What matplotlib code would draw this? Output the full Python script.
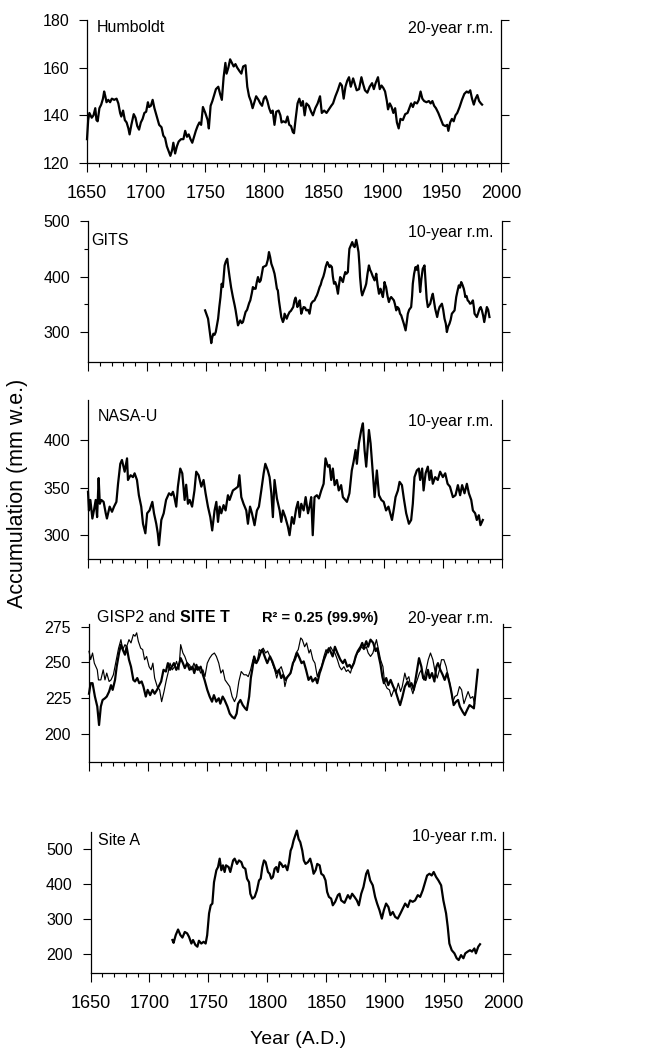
import matplotlib
matplotlib.use("Agg")
import matplotlib.pyplot as plt
from matplotlib import font_manager
from matplotlib.ticker import MultipleLocator, FixedLocator, NullFormatter

# ---------------------------------------------------------------- data
humboldt = [
    (1650, 130), (1651, 138), (1652, 141), (1654, 139), (1655.5, 140), (1657, 143), (1658, 138),
    (1659, 137.5), (1660.5, 143), (1662, 144.5), (1663.5, 147), (1664.5, 150), (1665.5, 148),
    (1666.5, 145.5), (1668, 146.5), (1669.5, 145.5), (1671, 147), (1673, 146.5), (1675, 147),
    (1676.5, 145), (1678, 141), (1679, 139.5), (1680.5, 142), (1682, 138), (1683.5, 137),
    (1685, 134.5), (1686, 132), (1687.5, 136), (1689.5, 140.5), (1691, 139), (1692.5, 135.5),
    (1694, 134), (1695.5, 137), (1697, 138.5), (1698.5, 141), (1700, 141.5), (1701.5, 145.5),
    (1702.5, 143.5), (1704, 144), (1705.5, 146.5), (1707, 143), (1709, 139.5), (1711, 136),
    (1713, 135), (1714.5, 131.5), (1716, 130.5), (1717.5, 127), (1719, 125), (1720.5, 123),
    (1722, 125.5), (1723, 128.5), (1724.5, 124), (1726, 127), (1727.5, 129), (1729.5, 130),
    (1731.5, 130), (1733, 133.5), (1734.5, 131), (1736, 132), (1737.5, 130), (1739, 128.5),
    (1740.5, 131), (1742, 133.5), (1743.5, 135.5), (1745, 137), (1746.5, 136), (1748, 143.5),
    (1750, 141), (1752, 138), (1753, 134.5), (1754.5, 144), (1756, 146), (1757.5, 148.5),
    (1759, 151), (1761, 152), (1762.5, 149), (1764, 146.5), (1765.5, 156), (1767, 162),
    (1768, 157.5), (1769.5, 160), (1771, 163.5), (1772.5, 162), (1774, 160.5), (1775.5, 161.5),
    (1777, 160), (1779, 158.5), (1780.5, 157.5), (1782, 160.5), (1784, 161), (1785.5, 152),
    (1787, 148), (1788.5, 146), (1790, 143), (1791.5, 145.5), (1793, 148), (1795, 146.5),
    (1796.5, 145), (1798, 144), (1799.5, 147), (1801, 148), (1802.5, 146), (1804, 143),
    (1805.5, 141), (1807, 142), (1808.5, 136), (1810, 141.5), (1812, 142), (1813.5, 140),
    (1814.5, 137), (1816, 137.5), (1818, 137), (1819.5, 139.5), (1821, 136), (1822.5, 135.5),
    (1824, 133), (1825, 132.5), (1826.5, 139), (1828, 145), (1829.5, 147), (1831, 144),
    (1832.5, 146), (1834, 140), (1835.5, 145), (1837.5, 144), (1839.5, 141.5), (1841, 140),
    (1843, 143), (1845, 145), (1847, 148), (1848.5, 141), (1850.5, 142), (1852.5, 141),
    (1854.5, 142.5), (1856.5, 144), (1858, 145), (1860, 148), (1862, 150.5), (1864, 153.5),
    (1865.5, 152.5), (1867, 147), (1868.5, 152), (1870, 154.5), (1871.5, 156), (1873, 152),
    (1875, 155.5), (1876.5, 153), (1878, 150.5), (1880, 151), (1882, 156), (1883.5, 153),
    (1885, 150.5), (1887, 149.5), (1889, 152), (1891, 153.5), (1892.5, 151), (1894, 153.5),
    (1896, 156), (1897.5, 151), (1899, 152.5), (1900.5, 151.5), (1902, 150), (1903.5, 146),
    (1904.5, 142.5), (1906, 145), (1907.5, 143.5), (1909, 141), (1910.5, 143), (1912, 137),
    (1913.5, 134.5), (1915, 138.5), (1917, 138), (1919, 140.5), (1921, 141), (1922.5, 143),
    (1924, 145), (1925.5, 143.5), (1927, 145.5), (1929, 145), (1930.5, 146.5), (1932, 150),
    (1933.5, 147), (1935, 146), (1937, 145.5), (1939, 146), (1940.5, 145), (1942, 146),
    (1943.5, 144), (1945, 143), (1947, 141), (1949, 138.5), (1951, 136), (1953, 135.5),
    (1954.5, 136), (1955.5, 133.5), (1957, 137), (1958.5, 138.5), (1960, 137.5), (1961.5, 140),
    (1963, 141), (1965, 143.5), (1967, 146.5), (1969, 149), (1971, 150), (1972.5, 149.5),
    (1974, 150.5), (1975.5, 147), (1977, 144.5), (1978.5, 147), (1980, 148.5), (1981.5, 146),
    (1983, 145), (1984, 144.5),
]

gits = [
    (1749, 339), (1750.5, 330), (1751.5, 324), (1753, 300), (1754.2, 280), (1755, 290), (1756, 297),
    (1757, 295), (1758, 300), (1759, 312), (1760, 324), (1761, 345), (1762, 363), (1763, 387),
    (1764, 381), (1765.5, 420), (1766.5, 427), (1767.7, 432), (1768.5, 418), (1769.7, 399),
    (1771, 380), (1772.5, 363), (1774, 348), (1774.8, 339), (1776, 322), (1776.8, 312),
    (1778, 318), (1778.7, 321), (1780, 316), (1781, 318), (1782, 326), (1783.2, 336),
    (1784.5, 340), (1785.2, 345), (1786.2, 352), (1787.2, 357), (1788.5, 370), (1789.4, 381),
    (1790.5, 378), (1791.7, 378), (1792.7, 390), (1793.7, 399), (1795, 390), (1796, 393),
    (1797, 405), (1798, 417), (1799, 418), (1800.7, 420), (1802, 430), (1803, 444), (1804, 435),
    (1805, 423), (1806.5, 414), (1807.7, 405), (1808.5, 395), (1809.7, 378), (1810.5, 375),
    (1811.4, 357), (1812.5, 340), (1813.4, 327), (1814.8, 318), (1815.5, 322), (1816.2, 333),
    (1817, 329), (1818, 324), (1819, 330), (1820.4, 336), (1821.5, 338), (1822.7, 342),
    (1823.5, 345), (1824.6, 357), (1825.5, 362), (1827, 345), (1828, 350), (1829, 357),
    (1830.3, 333), (1831.3, 340), (1832.3, 345), (1833.5, 344), (1834.5, 339), (1836, 340),
    (1837.3, 333), (1838.7, 351), (1840, 355), (1841.5, 357), (1842.5, 362), (1843.5, 366),
    (1844.5, 372), (1845.8, 381), (1846.7, 385), (1847.7, 393), (1849, 400), (1850, 408),
    (1851, 418), (1852.3, 426), (1853.2, 422), (1854.2, 417), (1855, 420), (1856.2, 417),
    (1857, 400), (1858, 387), (1859, 390), (1860, 384), (1861.3, 369), (1862.2, 385),
    (1863.2, 399), (1864.3, 395), (1865.5, 390), (1866.5, 400), (1867.5, 408), (1868.5, 405),
    (1869.7, 408), (1870.3, 430), (1871, 450), (1872.2, 456), (1873.4, 462), (1874.5, 455),
    (1875.4, 453), (1876.8, 466), (1877.8, 455), (1878.7, 444), (1879.5, 420), (1880, 399),
    (1881, 375), (1881.8, 366), (1882.8, 372), (1883.8, 378), (1884.5, 382), (1885.2, 387),
    (1886.3, 405), (1887.5, 420), (1888.5, 412), (1889.4, 408), (1890.8, 400), (1892.3, 393),
    (1893, 398), (1893.7, 405), (1894.8, 385), (1896, 369), (1896.6, 374), (1897.3, 378),
    (1898.3, 370), (1899.3, 363), (1900, 375), (1900.7, 390), (1901.3, 385), (1902, 381),
    (1903.2, 365), (1904.4, 354), (1905.3, 360), (1906.3, 363), (1907.5, 360), (1908.6, 357),
    (1909.5, 350), (1910.6, 339), (1911.6, 345), (1912.8, 342), (1913.8, 333), (1914.8, 330),
    (1916, 322), (1917, 315), (1918.5, 303), (1919.5, 318), (1920.4, 333), (1921.5, 340),
    (1923.2, 345), (1924, 365), (1924.6, 387), (1925.7, 405), (1926.9, 417), (1928, 412),
    (1928.9, 420), (1929.8, 400), (1930.8, 372), (1931.8, 395), (1933, 414), (1934.5, 420),
    (1935.5, 385), (1936.3, 360), (1937.3, 345), (1938.3, 348), (1939.3, 351), (1940.5, 362),
    (1941.5, 369), (1942.5, 355), (1943.5, 342), (1944.5, 333), (1945.2, 327), (1946.2, 338),
    (1947.2, 345), (1948.2, 348), (1949.2, 351), (1950.3, 340), (1951.4, 324), (1952.5, 315),
    (1953.4, 300), (1954.5, 310), (1955.6, 315), (1956.6, 322), (1957.6, 333), (1958.8, 336),
    (1959.9, 339), (1960.5, 350), (1961.3, 363), (1962.5, 375), (1963.5, 384), (1964.5, 380),
    (1965.5, 390), (1966.6, 385), (1967.7, 378), (1968.3, 372), (1969, 363), (1970, 365),
    (1971, 357), (1972, 355), (1973, 351), (1974.2, 352), (1975.4, 357), (1976.2, 345),
    (1976.8, 333), (1977.8, 330), (1978.7, 327), (1980, 335), (1981, 342), (1982, 345),
    (1983, 339), (1984, 330), (1985, 318), (1986, 330), (1987.2, 345), (1988.3, 340),
    (1989.4, 327),
]

nasa_u = [
    (1650, 345.6), (1650.8, 326), (1652, 337), (1653.7, 317.5), (1655, 326), (1656.5, 337),
    (1657.7, 319), (1659, 360), (1660, 333), (1661.3, 337), (1663.2, 335), (1665, 323),
    (1666, 317.5), (1668.3, 330), (1670.3, 324.6), (1672, 330), (1674, 335), (1675.4, 354),
    (1677.3, 375), (1678.7, 379), (1681, 366.7), (1683, 380.7), (1683.8, 358), (1686, 363),
    (1688, 361), (1689.4, 365), (1691.4, 358), (1693, 342), (1695, 330), (1696.5, 312),
    (1698.5, 302), (1700, 323), (1702, 326), (1704.4, 335), (1705.8, 323), (1707.7, 312),
    (1709, 302), (1710, 289.5), (1712, 316), (1714, 323), (1716, 337), (1718.5, 344),
    (1720.4, 342), (1721.8, 345.6), (1723, 340), (1724.6, 330), (1726, 351), (1728, 370),
    (1729.7, 365), (1731.7, 337), (1733, 353), (1734.5, 333), (1736, 337), (1738, 330),
    (1740, 347), (1741.5, 366.7), (1743.5, 363), (1745.8, 351), (1747.7, 358), (1749.4, 344),
    (1751.4, 330), (1753.4, 319), (1755, 305), (1757, 326), (1758.5, 335), (1759.9, 314),
    (1761.3, 330), (1762.7, 323), (1764.6, 331.6), (1766.3, 326), (1768.3, 342), (1769.7, 337),
    (1772.5, 347), (1774.8, 349), (1776.8, 351), (1778, 363), (1779.6, 340), (1781.5, 333),
    (1783.8, 326), (1785.2, 312), (1787, 330), (1788.6, 323), (1790.8, 310.5), (1792.8, 326),
    (1794.5, 330), (1796.5, 347), (1798.5, 365), (1799.9, 375), (1802, 368), (1803.5, 361),
    (1805, 344), (1806.3, 319), (1807.7, 358), (1809.7, 338.6), (1812, 326), (1813.4, 314),
    (1814.8, 326), (1816.8, 319), (1819, 309), (1820.4, 300), (1822.4, 319), (1824, 312),
    (1826, 328), (1827.5, 335), (1828.9, 319), (1830.3, 333), (1832.3, 326), (1834, 340),
    (1836, 323), (1837.3, 330), (1838.7, 340), (1840, 300), (1841.5, 340), (1843.5, 342),
    (1845.2, 338.6), (1847.2, 347), (1849.2, 354), (1850.8, 380.7), (1852.8, 372),
    (1854.2, 373.7), (1855.6, 358), (1857, 370), (1858.5, 352.6), (1860.4, 358), (1862, 347),
    (1864, 352.6), (1865.5, 340), (1867.5, 337), (1868.9, 335), (1871, 344), (1873, 368),
    (1874.5, 377), (1876.2, 389.5), (1877.3, 375), (1879, 396.5), (1881, 410.5),
    (1882.4, 417.5), (1883.8, 389.5), (1885.2, 372), (1887.5, 410.5), (1888.9, 396.5),
    (1890.8, 365), (1892.3, 340), (1894.2, 368), (1896, 342), (1898, 337), (1900, 335),
    (1902, 326), (1904, 330), (1905.5, 323), (1907, 316), (1908.6, 328), (1910, 340),
    (1912, 347), (1913.4, 356), (1915.4, 352.6), (1917, 338.6), (1919, 323), (1921.3, 312),
    (1923.2, 316), (1924.6, 333), (1926, 361), (1928, 368), (1929.7, 370), (1930.8, 358),
    (1932.5, 370), (1933.7, 347), (1935.4, 365), (1937.3, 372), (1938.7, 358), (1940, 368),
    (1941.5, 354), (1943.5, 361), (1945.7, 358), (1947.7, 366.7), (1950, 361), (1952, 365),
    (1954, 354), (1956, 351), (1958.5, 340), (1960.7, 342), (1962.7, 352.6), (1964.6, 342),
    (1966.3, 352.6), (1968.3, 344), (1970.3, 354), (1972, 344), (1974, 337), (1975.4, 326),
    (1977.3, 323), (1978.7, 316), (1980.4, 321), (1981.8, 310.5), (1983.8, 316),
]

site_t = [
    (1650, 228), (1651.4, 235.4), (1653, 235.4), (1655, 226), (1657, 219), (1658.5, 206),
    (1660, 219), (1661.5, 223.6), (1663.5, 224.8), (1665, 226), (1667, 229.5), (1668.6, 234),
    (1670, 230.7), (1672, 237.7), (1673.4, 247), (1675.4, 256.6), (1677, 262.5), (1678.5, 259),
    (1680.4, 255.4), (1681.8, 261), (1683.8, 251.9), (1685.5, 247), (1687.5, 237.7),
    (1688.9, 236.6), (1690.8, 239), (1692.5, 235.4), (1694.5, 236.6), (1696, 233), (1698, 226),
    (1699.6, 230.7), (1701.7, 227), (1703.7, 230.7), (1705.5, 228), (1707.5, 230.7),
    (1709.4, 234), (1711, 236.6), (1713, 244.8), (1715, 243.6), (1716.7, 249.5), (1718.5, 244.8),
    (1720, 247), (1721.8, 249.5), (1723.8, 244.8), (1726, 248.3), (1727.5, 253), (1729.4, 249.5),
    (1731, 246), (1733, 249.5), (1735, 244.8), (1737.5, 247), (1739, 242.5), (1740.8, 248.3),
    (1742, 244.8), (1744.4, 247), (1746.3, 241.3), (1747.7, 237.7), (1750, 230.7), (1752, 226),
    (1754, 222.4), (1755.6, 227), (1757.6, 222.4), (1759.7, 224.8), (1761, 221), (1763, 226),
    (1764.6, 223.6), (1767, 219), (1769, 214), (1771, 211.8), (1773, 210.6), (1774.8, 214),
    (1776, 221), (1778, 223.6), (1780, 220), (1782, 217.7), (1783.4, 216.5), (1785.4, 226),
    (1786.8, 239), (1788, 244.8), (1789.6, 254.2), (1791.5, 249.5), (1793, 251.9),
    (1795, 256.6), (1796.5, 259), (1798.5, 254.2), (1800.7, 249.5), (1803, 254.2),
    (1805, 250.7), (1807, 246), (1808.7, 242.5), (1810.6, 244.8), (1812.5, 239), (1814.2, 241.3),
    (1816, 237.7), (1818, 240), (1820.4, 242.5), (1822.4, 249.5), (1824, 251.9), (1826, 256.6),
    (1828, 253), (1829.7, 249.5), (1831.5, 250.7), (1833.5, 244.8), (1835.6, 237.7),
    (1837.6, 240), (1839, 236.6), (1841.5, 239), (1843, 235.4), (1845, 242.5), (1846, 244.8),
    (1848.6, 251.9), (1850.8, 256.6), (1852.8, 260), (1854, 258), (1856, 254.2), (1857.9, 261),
    (1860, 256.6), (1861.3, 254.2), (1862.5, 251.9), (1864.6, 249.5), (1866.3, 251.9),
    (1868.3, 247), (1870.3, 248.3), (1872, 246), (1874, 249.5), (1875.4, 254.2), (1877.3, 258),
    (1879.6, 261), (1881, 263.7), (1882.4, 260), (1884.4, 264.9), (1886, 261), (1888, 266),
    (1890.3, 263.7), (1892.3, 258), (1893.7, 260), (1895, 254.2), (1896.5, 248.3),
    (1898, 240), (1899.3, 235.4), (1901.3, 239), (1903, 234), (1905, 237.7), (1907.2, 233),
    (1909.3, 229.5), (1911.5, 223.6), (1913, 220), (1915, 226), (1917, 233), (1919.4, 236.6),
    (1920.7, 233), (1922.6, 235.4), (1924.6, 230.7), (1926, 237.7), (1927.5, 244.8),
    (1929, 253), (1931, 247), (1932.5, 239), (1934.5, 237.7), (1936.5, 244.8), (1938, 239),
    (1940, 242.5), (1942, 236.6), (1943.7, 247), (1945, 249.5), (1947, 244.8), (1949, 241.3),
    (1950.7, 237.7), (1952.7, 242.5), (1954.8, 235.4), (1956.3, 229.5), (1958.3, 220),
    (1960.3, 222.4), (1962, 223.6), (1963.5, 219), (1965.9, 215.3), (1967.7, 213),
    (1969.6, 216.5), (1971.7, 220), (1973.4, 219), (1975.4, 217.7), (1977.3, 233),
    (1978.7, 244.8),
]

gisp2 = [
    (1650, 257.8), (1651.4, 252), (1653, 256.6), (1654.5, 249.5), (1657, 244.8), (1658, 237.7),
    (1660, 237.7), (1662, 244.8), (1663.5, 237.7), (1665, 242.5), (1667, 236.6), (1668.6, 237.7),
    (1670.6, 241.3), (1672.5, 249.5), (1675, 260), (1677, 266), (1678.5, 259), (1680.4, 262.5),
    (1681.8, 261), (1683.8, 266), (1685.5, 263.7), (1687.5, 269.6), (1688.9, 268.4),
    (1690.3, 270.8), (1691.7, 264.9), (1693.7, 260), (1695.4, 259), (1697, 251.9),
    (1698.7, 254.2), (1700.8, 247), (1702.5, 244.8), (1704, 249.5), (1705.5, 239), (1707.7, 233),
    (1709.7, 230.7), (1711.4, 222.4), (1713.4, 229.5), (1715.4, 237.7), (1716.8, 242.5),
    (1718.5, 249.5), (1720.4, 244.8), (1722.4, 247), (1724, 250.7), (1726, 244.8),
    (1727.5, 262.5), (1729.4, 256.6), (1731, 254.2), (1733, 249.5), (1735, 248.3),
    (1736.8, 244.8), (1738.7, 249.5), (1740.7, 244.8), (1742.4, 247), (1744.4, 242.5),
    (1746.3, 244.8), (1748, 240), (1750, 249.5), (1752, 253), (1754, 255.4), (1756, 256.6),
    (1757.7, 254.2), (1759.7, 249.5), (1761.5, 242.5), (1763.2, 244.8), (1765, 237.7),
    (1767, 235.4), (1769, 233), (1771, 226), (1773, 222.4), (1774.8, 226), (1776.7, 236.6),
    (1778.7, 243.6), (1781, 241.3), (1783, 241.3), (1784.6, 240), (1786.6, 244.8),
    (1788.6, 251.9), (1790.3, 249.5), (1792.3, 250.7), (1794, 259), (1795.6, 258), (1797.3, 260),
    (1799.3, 256.6), (1801, 258), (1803, 254.2), (1805, 249.5), (1807, 244.8), (1808.7, 239),
    (1810.6, 244.8), (1812.5, 247), (1814.2, 242.5), (1815.6, 233), (1817.6, 240),
    (1819.4, 241.3), (1821.3, 244.8), (1823.2, 251.9), (1825, 256.6), (1826.9, 259),
    (1829, 267.2), (1830.3, 266), (1832.3, 261), (1834, 263.7), (1836, 256.6), (1837.3, 259),
    (1839.3, 251.9), (1841, 249.5), (1843, 240), (1845, 244.8), (1846.6, 247), (1848.6, 254.2),
    (1850.4, 259), (1852.3, 256.6), (1854.2, 261), (1856.2, 258), (1857.9, 256.6),
    (1860, 251.9), (1861.8, 247), (1863.5, 244.8), (1865.5, 247), (1867.5, 243.6),
    (1869, 244.8), (1871, 242.5), (1873, 248.3), (1874.8, 251.9), (1876.8, 256.6),
    (1878.7, 258), (1880.4, 261), (1882.4, 259), (1884.4, 261), (1886, 256.6), (1888, 254.2),
    (1890, 256.6), (1891.4, 261), (1893, 266), (1895, 258), (1896.5, 251.9), (1898.5, 247),
    (1900, 235.4), (1902, 231.8), (1904, 230.7), (1905.6, 226), (1907.7, 230.7),
    (1909.6, 229.5), (1911.5, 235.4), (1913.4, 229.5), (1914.8, 233), (1917, 242.5),
    (1918.5, 237.7), (1920.4, 240), (1922, 233), (1923.8, 228), (1925.5, 233), (1927.5, 237.7),
    (1929.4, 242.5), (1931, 244.8), (1933, 237.7), (1935, 244.8), (1936.8, 251.9),
    (1938.7, 256.6), (1940.7, 251.9), (1942.3, 244.8), (1944.4, 239), (1946.3, 244.8),
    (1948, 251.9), (1950, 251.9), (1952, 247), (1953.7, 240), (1955.6, 233), (1957.6, 222.4),
    (1959.3, 226), (1961.3, 227), (1963.2, 233), (1965, 230.7), (1967, 221), (1969, 226),
    (1970.5, 229.5), (1972.5, 224.8), (1974.5, 226), (1976, 221),
]

site_a = [
    (1719.5, 240), (1720.5, 232), (1722.3, 254), (1724.3, 270), (1726.3, 254), (1728, 247),
    (1730, 263), (1732, 259), (1733.6, 249), (1735.6, 230), (1737, 240), (1739, 226),
    (1740.7, 221), (1742, 238), (1744, 230), (1746, 235), (1747.7, 230), (1749, 254),
    (1750.6, 316), (1752, 339), (1753.4, 344), (1754.8, 405), (1756.8, 439), (1758.2, 448),
    (1759.6, 472), (1761, 439), (1762.4, 453), (1763.8, 434), (1765, 453), (1767.2, 448),
    (1768.6, 434), (1771, 467), (1772.3, 472), (1774.3, 457), (1776, 467), (1778, 462),
    (1779.4, 448), (1781.4, 443), (1782.8, 415), (1784.5, 405), (1785.6, 372), (1787.3, 358),
    (1789.3, 363), (1791.2, 382), (1793, 410), (1794.4, 415), (1795.8, 448), (1797.2, 467),
    (1798.6, 462), (1800.6, 434), (1802, 429), (1803.4, 415), (1804.8, 420), (1806.2, 443),
    (1807.6, 448), (1809, 434), (1810.5, 462), (1811.9, 457), (1813.3, 448), (1815.3, 453),
    (1817, 439), (1818.4, 462), (1819.8, 495), (1821, 505), (1822.3, 524), (1823.7, 538),
    (1825.1, 552), (1826.6, 528), (1828, 519), (1829.7, 495), (1831, 467), (1832.5, 457),
    (1834.5, 462), (1836.4, 472), (1837.9, 453), (1839.3, 429), (1841, 439), (1842.4, 457),
    (1844.4, 453), (1845.8, 429), (1847.7, 424), (1849.4, 410), (1850.8, 377), (1852.3, 363),
    (1854.2, 358), (1855.6, 339), (1857.6, 349), (1859.9, 368), (1861.3, 372), (1862.7, 353),
    (1865.5, 346), (1868.4, 368), (1870.3, 358), (1872, 372), (1874, 363), (1876, 353),
    (1877.7, 339), (1879.7, 372), (1881.6, 391), (1883.9, 429), (1885.3, 439), (1887.3, 410),
    (1889.5, 396), (1891.5, 363), (1893.2, 344), (1895.2, 325), (1897.2, 301), (1898.9, 325),
    (1900.8, 344), (1902.8, 334), (1904.5, 311), (1906.5, 320), (1908.5, 306), (1910.7, 301),
    (1913, 316), (1915, 330), (1917, 344), (1919.2, 334), (1921.2, 353), (1923.4, 349),
    (1925.4, 353), (1927.7, 368), (1929.7, 363), (1931.9, 382), (1933.9, 405), (1935.6, 424),
    (1937.6, 429), (1939.5, 424), (1941.2, 434), (1943.2, 420), (1945.2, 410), (1947.5, 396),
    (1949.4, 353), (1951.7, 316), (1953.1, 278), (1954.5, 230), (1956.5, 211), (1958.8, 202),
    (1960.7, 188), (1962.4, 183), (1964.4, 197), (1966.4, 188), (1968, 202), (1970, 207),
    (1972, 211), (1973.7, 207), (1975.7, 216), (1977, 202), (1979, 221), (1980.5, 228),
]

panel_names = ["Humboldt", "GITS", "NASA-U", "GISP2 and ", "Site A"]
panel_windows = ["20-year r.m.", "10-year r.m.", "10-year r.m.", "20-year r.m.", "10-year r.m."]
year_ticks = [1650, 1700, 1750, 1800, 1850, 1900, 1950, 2000]

# ---------------------------------------------------------------- fonts
W, H = 652, 1049
families = {f.name for f in font_manager.fontManager.ttflist}
SANS = "Liberation Sans"
NARROW = "Liberation Sans Narrow" if "Liberation Sans Narrow" in families else None
plt.rcParams["font.family"] = [SANS, "DejaVu Sans"]

if NARROW:
    xtick_font = dict(family=NARROW, size=14)
    xlabel_font = dict(family=NARROW, size=15.5)
    r2_font = dict(family=NARROW, size=12.5, weight="bold")
else:
    xtick_font = dict(family=SANS, size=13)
    xlabel_font = dict(family=SANS, size=14)
    r2_font = dict(family=SANS, size=10.5, weight="bold")

fig = plt.figure(figsize=(W / 100, H / 100), dpi=100)
fig.patch.set_facecolor("white")


def frac(x, y):
    return x / W, 1 - y / H


def add_panel(left, right, top, bottom, ylim, yticks, ylabels, yminor=None, xlabels=False):
    x0, y0 = frac(left, bottom)
    ax = fig.add_axes([x0, y0, (right - left) / W, (bottom - top) / H])
    ax.set_xlim(1650, 2000)
    ax.set_ylim(*ylim)
    ax.spines["top"].set_visible(False)
    for s in ("left", "bottom", "right"):
        ax.spines[s].set_linewidth(0.9)
    ax.xaxis.set_major_locator(FixedLocator(year_ticks))
    ax.xaxis.set_minor_locator(MultipleLocator(10))
    ax.tick_params(axis="x", which="major", direction="out", length=6.5, width=0.8,
                   pad=9.5, top=False, labelbottom=xlabels)
    ax.tick_params(axis="x", which="minor", direction="out", length=3, width=0.8, top=False)
    if xlabels:
        ax.set_xticklabels([str(t) for t in year_ticks], **xtick_font)
    ax.yaxis.set_major_locator(FixedLocator(yticks))
    ax.set_yticklabels(ylabels, fontsize=11.5)
    if yminor:
        ax.yaxis.set_minor_locator(FixedLocator(yminor))
        ax.yaxis.set_minor_formatter(NullFormatter())
    ax.tick_params(axis="y", which="major", direction="out", length=5.8, width=0.8,
                   pad=7, left=True, right=True, labelright=False)
    ax.tick_params(axis="y", which="minor", direction="out", length=3, width=0.8,
                   left=True, right=True)
    ax.set_facecolor("none")
    return ax


def draw(ax, series, lw):
    xs = [p[0] for p in series]
    ys = [p[1] for p in series]
    ax.plot(xs, ys, color="black", lw=lw, solid_joinstyle="round", clip_on=False)


# Humboldt
ax1 = add_panel(87, 501, 20, 163, (120, 180), [120, 140, 160, 180],
                ["120", "140", "160", "180"], xlabels=True)
draw(ax1, humboldt, 1.6)

# GITS
ax2 = add_panel(88, 502, 221, 362, (246, 500), [300, 400, 500], ["300", "400", "500"],
                yminor=[350, 450])
draw(ax2, gits, 1.6)

# NASA-U
ax3 = add_panel(88, 502, 400, 559, (275, 442), [300, 350, 400], ["300", "350", "400"])
draw(ax3, nasa_u, 1.6)

# GISP2 and Site T
ax4 = add_panel(89, 503, 624, 762, (180, 277), [200, 225, 250, 275],
                ["200", "225", "250", "275"])
draw(ax4, gisp2, 0.85)
draw(ax4, site_t, 1.6)

# Site A
ax5 = add_panel(90.5, 503, 832, 973, (146, 548), [200, 300, 400, 500],
                ["200", "300", "400", "500"], xlabels=True)
draw(ax5, site_a, 1.6)

# ---------------------------------------------------------------- labels
def put(x, y, s, ha="left", **kw):
    fx, fy = frac(x, y)
    return fig.text(fx, fy, s, ha=ha, va="baseline", **kw)


put(97, 32, panel_names[0], fontsize=11.5)
put(493, 33, panel_windows[0], ha="right", fontsize=11.5)
put(91, 245, panel_names[1], fontsize=11.5)
put(493, 237, panel_windows[1], ha="right", fontsize=11.5)
put(98, 421, panel_names[2], fontsize=11.5)
put(493, 426, panel_windows[2], ha="right", fontsize=11.5)
t = put(97, 622, panel_names[3], fontsize=11.5)
fig.canvas.draw()
bb = t.get_window_extent()
fig.text(bb.x1 / W, 1 - 622 / H, "SITE T", ha="left", va="baseline",
         fontsize=11.5, fontweight="bold")
put(262, 622, "R\u00b2 = 0.25 (99.9%)", **r2_font)
put(493, 623, panel_windows[3], ha="right", fontsize=11.5)
put(98, 845, panel_names[4], fontsize=11.5)
put(497, 841, panel_windows[4], ha="right", fontsize=11.5)

fx, fy = frac(298, 1044)
fig.text(fx, fy, "Year (A.D.)", ha="center", va="baseline", **xlabel_font)
fx, fy = frac(18, 493)
fig.text(fx, fy, "Accumulation (mm w.e.)", ha="center", va="center", rotation=90,
         fontsize=15.5)

fig.savefig("out.png", dpi=100, facecolor="white")
